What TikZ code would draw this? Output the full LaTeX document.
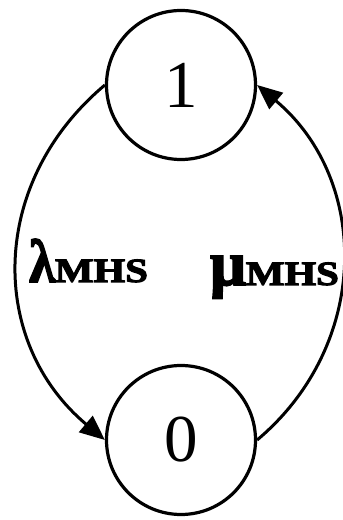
\documentclass[tikz,border=0pt]{standalone}
\usepackage{fontspec}
\setmainfont{Liberation Serif}
\newfontfamily\ratefont{Liberation Serif Bold}[FakeBold=3]
\usepackage{graphicx}
\usetikzlibrary{arrows.meta, positioning}

\newcommand{\sub}[1]{{\fontsize{34}{34}\selectfont\scalebox{1.2}[1]{#1}}}

\begin{document}
\begin{tikzpicture}[
  x=1pt, y=1pt,
  state/.style={circle, draw=black, line width=3.2pt, minimum size=149pt, inner sep=0pt, font=\fontsize{67}{67}\selectfont},
  arr/.style={-{Triangle[length=25pt, width=21pt]}, line width=3pt},
  rate/.style={font=\ratefont, inner sep=0pt, anchor=base west}
]
  \useasboundingbox (0,0) rectangle (343,520);
  \node[state] (s1) at (181,435) {1};
  \node[state] (s0) at (181,80) {0};

  % transitions
  \draw[arr] (s1.west) to[out=220, in=140, looseness=1.1] (s0.west);
  \draw[arr] (s0.east) to[out=40, in=-40, looseness=1.07] (s1.east);

  % rates
  \node[rate] (lam) at (29,238) {\fontsize{61}{61}\selectfont\scalebox{0.86}[1]{λ}\sub{MHS}};
  \node[rate] (mu) at (210,235) {\fontsize{63}{63}\selectfont μ\sub{MHS}};
\end{tikzpicture}
\end{document}
